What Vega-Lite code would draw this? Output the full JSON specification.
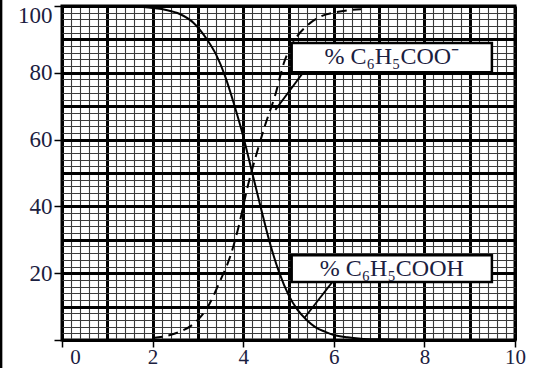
{
  "$schema": "https://vega.github.io/schema/vega-lite/v6.json",
  "width": 453,
  "height": 334,
  "autosize": {"type": "none"},
  "padding": {"left": 62, "top": 6, "right": 19, "bottom": 28},
  "background": "white",
  "config": {
    "view": {"stroke": "black", "strokeWidth": 3},
    "axis": {
      "labelFont": "Liberation Serif",
      "labelFontSize": 23,
      "labelColor": "#1b2040",
      "labelOverlap": false,
      "labelFlush": false,
      "title": null,
      "domain": false,
      "format": "d",
      "tickColor": "black",
      "tickWidth": 1.5,
      "tickSize": 8
    }
  },
  "encoding": {
    "x": {
      "field": "x", "type": "quantitative",
      "scale": {"domain": [0, 10], "nice": false},
      "axis": {
        "values": [0,0.2,0.4,0.6,0.8,1,1.2,1.4,1.6,1.8,2,2.2,2.4,2.6,2.8,3,3.2,3.4,3.6,3.8,4,4.2,4.4,4.6,4.8,5,5.2,5.4,5.6,5.8,6,6.2,6.4,6.6,6.8,7,7.2,7.4,7.6,7.8,8,8.2,8.4,8.6,8.8,9,9.2,9.4,9.6,9.8,10],
        "grid": true,
        "gridColor": {"condition": {"test": "abs(datum.value - round(datum.value)) < 0.001", "value": "#000000"}, "value": "#3a3a3a"},
        "gridWidth": {"condition": {"test": "abs(datum.value - round(datum.value)) < 0.001", "value": 3}, "value": 1.1},
        "gridOpacity": 1,
        "labelExpr": "abs(datum.value/2 - round(datum.value/2)) < 0.001 ? format(datum.value, 'd') : ''",
        "tickOpacity": {"condition": {"test": "abs(datum.value/2 - round(datum.value/2)) < 0.001", "value": 1}, "value": 0},
        "labelOffset": {"condition": {"test": "datum.value === 0", "value": 13}, "value": 0},
        "labelFontSize": 21,
        "labelPadding": -1,
        "tickSize": 7
      }
    },
    "y": {
      "field": "y", "type": "quantitative",
      "scale": {"domain": [0, 100], "nice": false},
      "axis": {
        "values": [0,2,4,6,8,10,12,14,16,18,20,22,24,26,28,30,32,34,36,38,40,42,44,46,48,50,52,54,56,58,60,62,64,66,68,70,72,74,76,78,80,82,84,86,88,90,92,94,96,98,100],
        "grid": true,
        "gridColor": {"condition": {"test": "datum.value % 10 === 0", "value": "#000000"}, "value": "#3a3a3a"},
        "gridWidth": {"condition": {"test": "datum.value % 10 === 0", "value": 3}, "value": 1.1},
        "gridOpacity": 1,
        "labelExpr": "datum.value % 20 === 0 && datum.value > 0 ? format(datum.value, 'd') : ''",
        "tickOpacity": {"condition": {"test": "datum.value % 20 === 0", "value": 1}, "value": 0},
        "labelOffset": {"condition": {"test": "datum.value === 100", "value": 9}, "value": 0},
        "labelPadding": 2
      }
    }
  },
  "layer": [
    {
      "data": {"values": [
        {"x": 1.5, "y": 100}, {"x": 2.0, "y": 99.4}, {"x": 2.3, "y": 98.8}, {"x": 2.6, "y": 97.6},
        {"x": 2.9, "y": 95}, {"x": 3.2, "y": 90}, {"x": 3.4, "y": 85.5}, {"x": 3.6, "y": 79},
        {"x": 3.8, "y": 70.5}, {"x": 4.0, "y": 61}, {"x": 4.2, "y": 50}, {"x": 4.4, "y": 39},
        {"x": 4.6, "y": 28.5}, {"x": 4.8, "y": 20}, {"x": 5.0, "y": 13.5}, {"x": 5.2, "y": 9},
        {"x": 5.4, "y": 6}, {"x": 5.6, "y": 3.8}, {"x": 5.8, "y": 2.5}, {"x": 6.0, "y": 1.5},
        {"x": 6.3, "y": 0.8}, {"x": 6.6, "y": 0.4}, {"x": 7.0, "y": 0.2}, {"x": 8.0, "y": 0}, {"x": 10.0, "y": 0}
      ]},
      "mark": {"type": "line", "color": "black", "strokeWidth": 2, "interpolate": "monotone"}
    },
    {
      "data": {"values": [
        {"x": 2.0, "y": 0.6}, {"x": 2.3, "y": 1.2}, {"x": 2.6, "y": 2.5}, {"x": 2.9, "y": 4.8},
        {"x": 3.2, "y": 9.5}, {"x": 3.5, "y": 18}, {"x": 3.7, "y": 24.5}, {"x": 3.9, "y": 34},
        {"x": 4.1, "y": 46}, {"x": 4.3, "y": 56}, {"x": 4.5, "y": 65}, {"x": 4.7, "y": 73},
        {"x": 4.9, "y": 83}, {"x": 5.1, "y": 89}, {"x": 5.4, "y": 94}, {"x": 5.7, "y": 96.8},
        {"x": 6.0, "y": 98}, {"x": 6.3, "y": 98.7}, {"x": 6.6, "y": 99}
      ]},
      "mark": {"type": "line", "color": "black", "strokeWidth": 2, "strokeDash": [10, 6], "interpolate": "monotone"}
    },
    {
      "data": {"values": [
        {"x": 5.33, "y": 80.2, "x2": 4.71, "y2": 68.9},
        {"x": 5.97, "y": 17.4, "x2": 5.35, "y2": 6.6}
      ]},
      "mark": {"type": "rule", "color": "black", "strokeWidth": 1.8},
      "encoding": {"x2": {"field": "x2"}, "y2": {"field": "y2"}}
    },
    {
      "data": {"values": [
        {"x": 5.07, "x2": 9.49, "y": 88.9, "y2": 80.2},
        {"x": 5.07, "x2": 9.49, "y": 25.4, "y2": 17.4}
      ]},
      "mark": {"type": "rect", "fill": "white", "stroke": "black", "strokeWidth": 2.5},
      "encoding": {"x2": {"field": "x2"}, "y2": {"field": "y2"}}
    },
    {
      "data": {"values": [
        {"x": 7.28, "y": 84.6, "label": "% C₆H₅COO⁻"},
        {"x": 7.28, "y": 21.4, "label": "% C₆H₅COOH"}
      ]},
      "mark": {"type": "text", "font": "Liberation Serif", "fontSize": 24, "color": "#1b2040", "align": "center", "baseline": "middle"},
      "encoding": {"text": {"field": "label"}}
    },
    {
      "data": {"values": [{"x": -1.35, "y": -8.4, "y2": 101.8}]},
      "mark": {"type": "rule", "color": "black", "strokeWidth": 3, "clip": false},
      "encoding": {"y2": {"field": "y2"}}
    }
  ]
}
